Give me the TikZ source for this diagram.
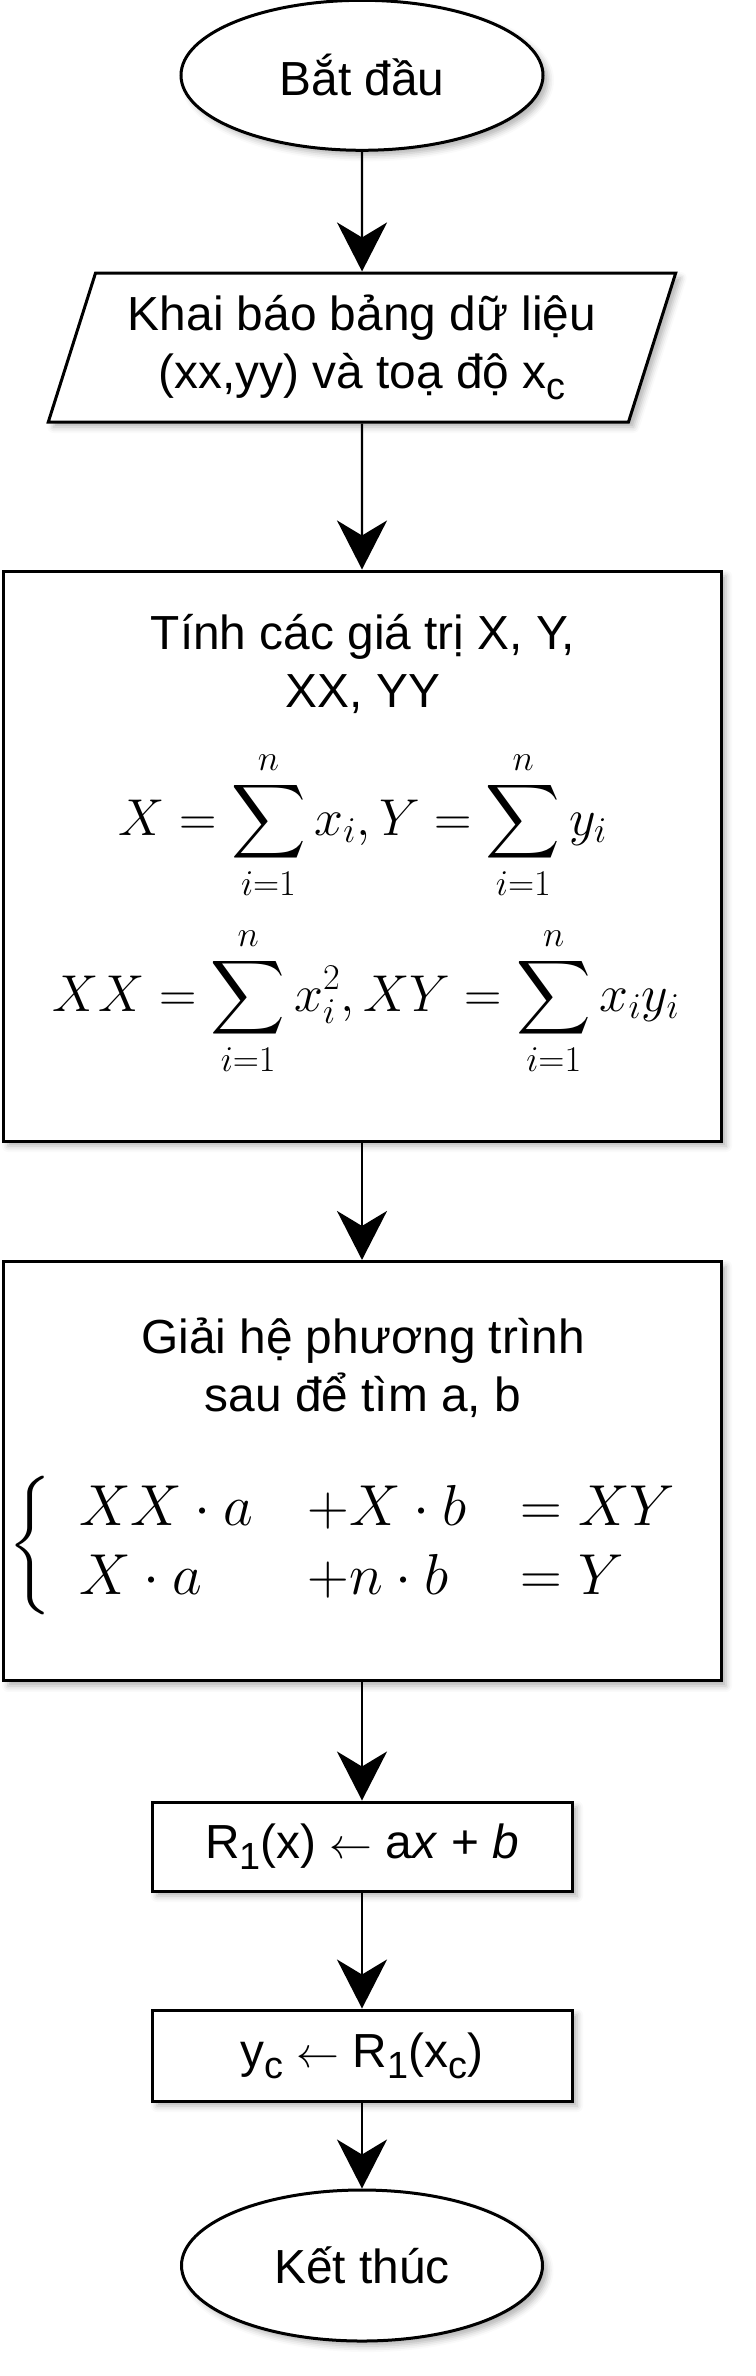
\documentclass[tikz,border=0pt]{standalone}
\usepackage{fix-cm}
\usepackage{amsmath,amssymb}
\usepackage[no-math]{fontspec}
\setmainfont{Liberation Sans}
\usetikzlibrary{arrows.meta,shapes.geometric,shadows.blur}
\newcommand{\eqsize}{\fontsize{26}{32}\selectfont}
\newcommand{\hesize}{\fontsize{29}{35}\selectfont}
\newcommand{\chiso}[1]{\raisebox{-5.5bp}{\fontsize{19}{19}\selectfont #1}}
\newcommand{\muiten}{{\fontsize{21.5}{21.5}\selectfont$\leftarrow$}}

\begin{document}
\begin{tikzpicture}[font=\fontsize{24}{29}\selectfont,
  boxshadow/.style={blur shadow={shadow xshift=2.5bp,shadow yshift=-2.5bp,shadow blur radius=3bp,shadow opacity=30}},
  term/.style={draw,ellipse,line width=1.5bp,fill=white,boxshadow,inner sep=0pt,minimum width=181bp,minimum height=75bp},
  io/.style={draw,trapezium,trapezium left angle=68.4,trapezium right angle=111.6,trapezium stretches=true,line width=1.5bp,fill=white,boxshadow,inner sep=0pt,minimum width=315bp,minimum height=74.5bp,align=center},
  proc/.style={draw,rectangle,line width=1.5bp,fill=white,boxshadow,inner sep=0pt,minimum width=359bp},
  lbl/.style={anchor=base,inner sep=0pt},
  flow/.style={-{Stealth[length=24.5bp,width=25bp,inset=7.5bp]},line width=1.2bp}]

\useasboundingbox (0bp,0bp) rectangle (378bp,-1188bp);

\node (BD) at (181bp,-37.65bp)[term] {Bắt đầu};
\node (KB) at (181bp,-173.75bp)[io] {Khai báo bảng dữ liệu\\(xx,yy) và toạ độ x\chiso{c}};

% tinh tong
\node (TG) at (181bp,-428bp)[proc,minimum height=285bp] {};
\node (TG1) at (181.5bp,-324.5bp)[lbl] {Tính các giá trị X, Y,};
\node (TG2) at (181.5bp,-353.5bp)[lbl] {XX, YY};
\node (TG3) at (181.5bp,-417.5bp)[lbl,font=\eqsize] {$\displaystyle X=\sum_{i=1}^{n}x_i, Y=\sum_{i=1}^{n}y_i$};
\node (TG4) at (183bp,-505.5bp)[lbl,font=\eqsize] {$\displaystyle XX=\sum_{i=1}^{n}x_i^2, XY=\sum_{i=1}^{n}x_iy_i$};

% giai he
\node (GH) at (181bp,-735.6bp)[proc,minimum height=209.75bp] {};
\node (GH1) at (181.5bp,-676.5bp)[lbl] {Giải hệ phương trình};
\node (GH2) at (181.5bp,-705.5bp)[lbl] {sau để tìm a, b};
\node (GH3) at (178.25bp,-773bp)[inner sep=0pt,font=\hesize] {\setlength{\arraycolsep}{13.5bp}$\left\{\begin{array}{lll}
  XX\cdot a & +X\cdot b & =XY\\
  X\cdot a & +n\cdot b & =Y
\end{array}\right.$};

\node (R1) at (181bp,-923.25bp)[proc,minimum width=210bp,minimum height=44.5bp] {R\chiso{1}(x) \muiten{} a\textit{x} + \textit{b}};
\node (YC) at (181bp,-1027.75bp)[proc,minimum width=210bp,minimum height=45.5bp] {y\chiso{c} \muiten{} R\chiso{1}(x\chiso{c})};
\node (KT) at (181bp,-1132.75bp)[term,minimum width=180.5bp,minimum height=75.5bp] {Kết thúc};

\draw [flow] (BD) -- (KB);
\draw [flow] (KB) -- (TG);
\draw [flow] (TG) -- (GH);
\draw [flow] (GH) -- (R1);
\draw [flow] (R1) -- (YC);
\draw [flow] (YC) -- (KT);
\end{tikzpicture}
\end{document}
